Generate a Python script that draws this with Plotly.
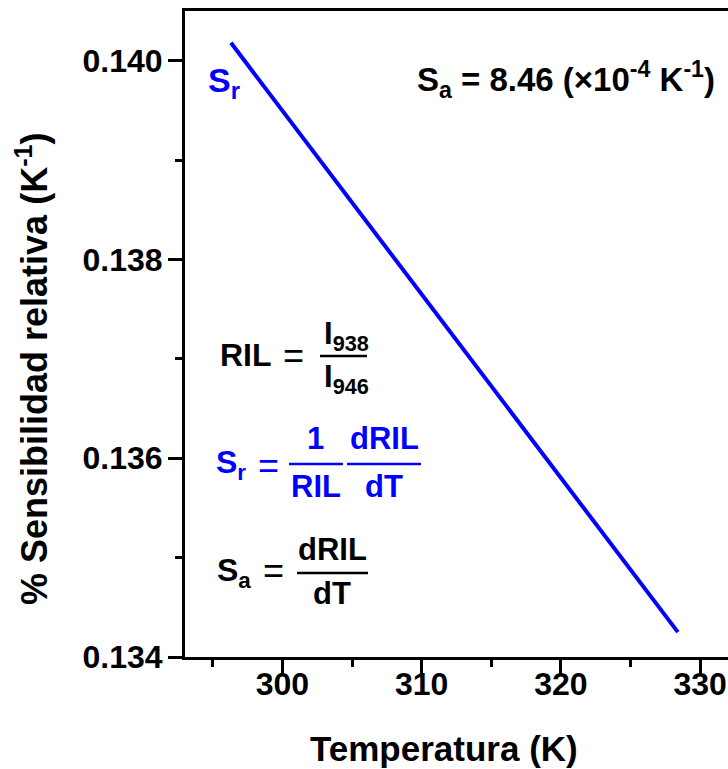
import plotly.graph_objects as go

# ---- data ----
temperature_K = [296.3, 328.4]
relative_sensitivity = [0.14018, 0.13425]

x_ticks = [300, 310, 320, 330]
y_ticks = [0.134, 0.136, 0.138, 0.140]
y_ticklabels = ["0.134", "0.136", "0.138", "0.140"]

x_title = "Temperatura (K)"
y_title = "% Sensibilidad relativa (K<sup>-1</sup>)"

BLUE = "#0000ff"
FONT = "Liberation Sans, Arial, sans-serif"

W, H = 728, 769
L, T, B = 185, 11, 112
PW = W - L
PH = H - T - B


def px(x):
    return (x - L) / PW


def py(y):
    return (H - B - y) / PH


fig = go.Figure()
fig.add_trace(go.Scatter(
    x=temperature_K, y=relative_sensitivity, mode="lines",
    line=dict(color=BLUE, width=4), showlegend=False, hoverinfo="skip"))

axis_common = dict(
    showgrid=False, zeroline=False, showline=True, linecolor="black", linewidth=3,
    ticks="outside", ticklen=14, tickwidth=3, tickcolor="black",
    tickfont=dict(family=FONT, size=32, color="black", weight="bold"),
)

fig.update_xaxes(
    range=[293.0, 332.0], tickvals=x_ticks, mirror=True,
    ticklabelstandoff=-17,
    minor=dict(ticks="outside", ticklen=7, tickwidth=3, tickcolor="black",
               tickvals=[295, 305, 315, 325]),
    **axis_common)
fig.update_yaxes(
    range=[0.134, 0.1405], tickvals=y_ticks, ticktext=y_ticklabels,
    ticklabelstandoff=-1,
    minor=dict(ticks="outside", ticklen=7, tickwidth=3, tickcolor="black",
               tickvals=[0.135, 0.137, 0.139]),
    **axis_common)

ann = []


def text(x, y, s, size=31, color="black", xanchor="left", weight="bold"):
    ann.append(dict(x=px(x), y=py(y), xref="paper", yref="paper", text=s,
                    showarrow=False, xanchor=xanchor, yanchor="middle",
                    font=dict(family=FONT, size=size, color=color, weight=weight)))


# axis titles
ann.append(dict(x=px(444), y=py(748), xref="paper", yref="paper", text=x_title,
                showarrow=False, xanchor="center", yanchor="middle",
                font=dict(family=FONT, size=35, color="black", weight="bold")))
ann.append(dict(x=px(32), y=py(369), xref="paper", yref="paper", text=y_title,
                showarrow=False, xanchor="center", yanchor="middle", textangle=-90,
                font=dict(family=FONT, size=36, color="black", weight="bold")))

# labels
text(206, 83, "S<sub>r</sub>", size=34, color=BLUE)
text(717, 79, "S<sub>a</sub> = 8.46 (×10<sup>-4</sup> K<sup>-1</sup>)", size=33, xanchor="right")

# RIL = I938 / I946
text(218, 355, "RIL", size=32)
text(293, 356, "=", xanchor="center", weight="normal", size=36)
text(322, 336, "I<sub>938</sub>")
text(322, 379, "I<sub>946</sub>")

# Sr = 1/RIL dRIL/dT
text(214, 464, "S<sub>r</sub>", color=BLUE, size=32)
text(268, 465, "=", xanchor="center", weight="normal", size=36, color=BLUE)
text(315, 438, "1", xanchor="center", color=BLUE)
text(316, 486, "RIL", xanchor="center", color=BLUE)
text(384, 438, "dRIL", xanchor="center", color=BLUE)
text(384, 486, "dT", xanchor="center", color=BLUE)

# Sa = dRIL/dT
text(215, 572, "S<sub>a</sub>", size=32)
text(273, 570, "=", xanchor="center", weight="normal", size=36)
text(332, 549, "dRIL", xanchor="center")
text(332, 593, "dT", xanchor="center")

shapes = []


def bar(x0, x1, y, color="black"):
    shapes.append(dict(type="line", xref="paper", yref="paper",
                       x0=px(x0), x1=px(x1), y0=py(y), y1=py(y),
                       line=dict(color=color, width=2.5)))


bar(320, 367, 356)
bar(289, 343, 464, BLUE)
bar(347, 421, 464, BLUE)
bar(297, 368, 573)

fig.update_layout(
    width=W, height=H,
    margin=dict(l=L, r=0, t=T, b=B, pad=0),
    paper_bgcolor="white", plot_bgcolor="white",
    annotations=ann, shapes=shapes,
    font=dict(family=FONT, size=31, color="black"),
)

fig.write_html("out.html")
